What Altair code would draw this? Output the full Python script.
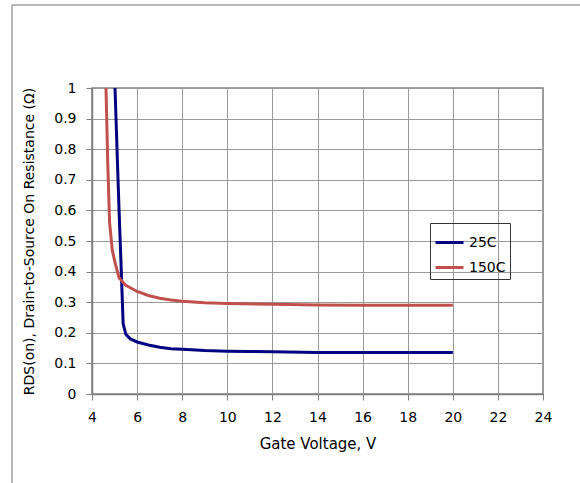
import altair as alt
import pandas as pd

v25 = [5.02, 5.2, 5.3, 5.38, 5.5, 5.7, 6.0, 6.5, 7.0, 7.5, 8.0, 9.0, 10.0, 11.0, 12.0, 14.0, 16.0, 18.0, 20.0]
r25 = [1.0, 0.6, 0.4, 0.23, 0.195, 0.18, 0.17, 0.16, 0.153, 0.148, 0.146, 0.142, 0.14, 0.139, 0.138, 0.136, 0.136, 0.136, 0.136]
v150 = [4.62, 4.7, 4.78, 4.9, 5.02, 5.2, 5.5, 6.0, 6.5, 7.0, 7.5, 8.0, 9.0, 10.0, 12.0, 14.0, 16.0, 18.0, 20.0]
r150 = [1.0, 0.75, 0.56, 0.47, 0.43, 0.38, 0.355, 0.335, 0.322, 0.313, 0.307, 0.303, 0.298, 0.296, 0.293, 0.291, 0.29, 0.29, 0.29]
series = ["25C", "150C"]
colors = ["#000080", "#C0504D"]
x_ticks = [4, 6, 8, 10, 12, 14, 16, 18, 20, 22, 24]
y_ticks = [0, 0.1, 0.2, 0.3, 0.4, 0.5, 0.6, 0.7, 0.8, 0.9, 1]

df = pd.concat([
    pd.DataFrame({"V": v25, "R": r25, "T": "25C", "o": range(len(v25))}),
    pd.DataFrame({"V": v150, "R": r150, "T": "150C", "o": range(len(v150))}),
])

FONT = "DejaVu Sans"
W, H = 451, 306

lines = alt.Chart(df).mark_line(strokeWidth=3, clip=True).encode(
    x=alt.X("V:Q", scale=alt.Scale(domain=[4, 24], nice=False),
            axis=alt.Axis(values=x_ticks, title="Gate Voltage, V", format="~g",
                          labelFlush=False, labelPadding=10, titlePadding=12, titleFontSize=15)),
    y=alt.Y("R:Q", scale=alt.Scale(domain=[0, 1], nice=False),
            axis=alt.Axis(values=y_ticks, title="RDS(on), Drain-to-Source On Resistance (Ω)", format="~g",
                          labelFlush=False, labelPadding=10, titlePadding=17)),
    color=alt.Color("T:N", scale=alt.Scale(domain=series, range=colors),
                    legend=alt.Legend(title=None, orient="none", legendX=338, legendY=135,
                                      symbolType="stroke", symbolSize=784, symbolStrokeWidth=3,
                                      labelFontSize=14, labelFont=FONT, labelColor="#000",
                                      strokeColor="#333", padding=4, rowPadding=2,
                                      labelOffset=4)),
    order="o:Q",
)

frame = alt.Chart(pd.DataFrame({"a": [0]})).mark_rule(color="#a0a0a0", strokeWidth=1.5, clip=False).encode(
    x=alt.value(-80), x2=alt.value(500), y=alt.value(-83)
)
frame2 = alt.Chart(pd.DataFrame({"a": [0]})).mark_rule(color="#a0a0a0", strokeWidth=1.5, clip=False).encode(
    x=alt.value(-80), y=alt.value(-83), y2=alt.value(395)
)

chart = alt.layer(frame, frame2, lines).properties(
    width=W, height=H,
    autosize=alt.AutoSizeParams(type="none"),
    padding={"left": 92, "top": 88, "right": 37, "bottom": 89},
).configure_view(
    stroke="#808080", strokeWidth=1.5
).configure_axis(
    grid=True, gridColor="#999999", gridWidth=1,
    domainColor="#808080", domainWidth=1.5,
    tickColor="#808080", tickSize=6,
    labelFont=FONT, labelFontSize=14, labelColor="#000",
    titleFont=FONT, titleFontSize=14, titleColor="#000", titleFontWeight="normal",
)

chart.save("out.html", embed_options={"renderer": "svg", "actions": False})
